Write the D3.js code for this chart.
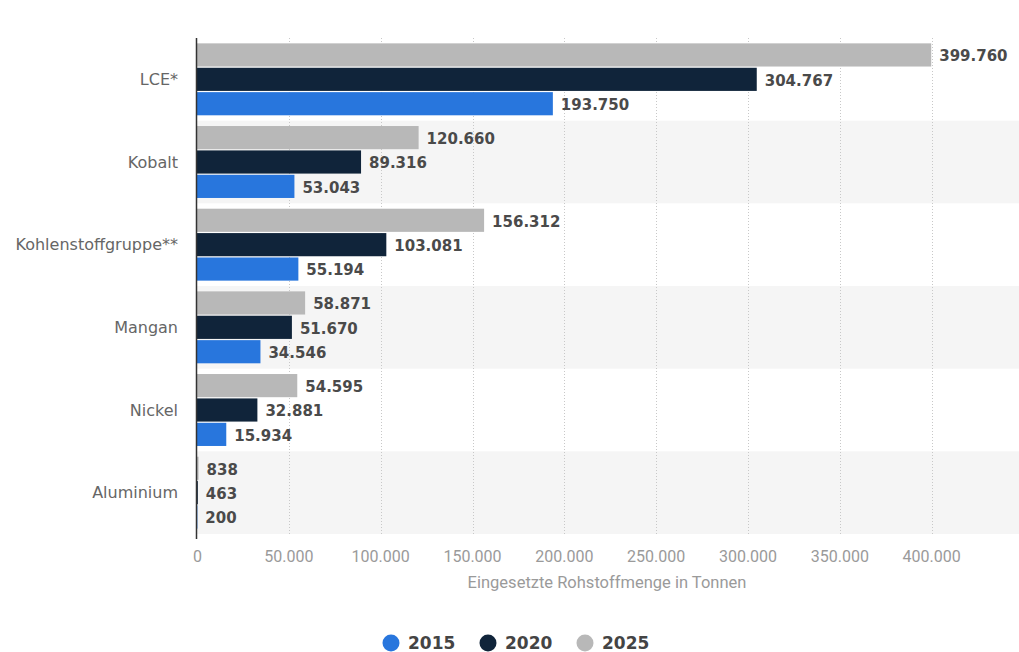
<!DOCTYPE html>
<html>
<head>
<meta charset="utf-8">
<script src="https://cdn.jsdelivr.net/npm/d3@7"></script>
<style>
  body { margin: 0; background: #fff; }
  svg { display: block; }
</style>
</head>
<body>
<div id="chart"></div>
<script>
// Categories and series values (Tonnen)
const categories = ['LCE*', 'Kobalt', 'Kohlenstoffgruppe**', 'Mangan', 'Nickel', 'Aluminium'];
const years = ['2025', '2020', '2015'];
const values2015 = [193750, 53043, 55194, 34546, 15934, 200];
const values2020 = [304767, 89316, 103081, 51670, 32881, 463];
const values2025 = [399760, 120660, 156312, 58871, 54595, 838];
const xTicks = [0, 50000, 100000, 150000, 200000, 250000, 300000, 350000, 400000];
const legendYears = ['2015', '2020', '2025'];

const colors = { '2015': '#2876dd', '2020': '#10243a', '2025': '#b8b8b8' };
const seriesValues = { '2015': values2015, '2020': values2020, '2025': values2025 };

const width = 1019;
const height = 652;
const margin = { top: 38, left: 197, bottom: 118 };

const de = d3.formatLocale({ decimal: ',', thousands: '.', grouping: [3], currency: ['', ' €'] });
const fmt = de.format(',d');

const svg = d3.select('#chart')
    .append('svg')
    .attr('width', width)
    .attr('height', height);

const x = d3.scaleLinear()
    .domain([0, 450000])
    .range([margin.left, margin.left + 826.5]);

const y = d3.scaleBand()
    .domain(categories)
    .range([margin.top, height - margin.bottom])
    .padding(0);

const inner = d3.scaleBand()
    .domain(years)
    .range([0, y.bandwidth()])
    .paddingInner(0.05)
    .paddingOuter(0.22);

// Alternating row backgrounds
svg.append('g')
    .selectAll('rect')
    .data(categories.filter((d, i) => i % 2 === 1))
    .enter()
    .append('rect')
    .attr('x', margin.left)
    .attr('y', d => y(d))
    .attr('width', width - margin.left)
    .attr('height', y.bandwidth())
    .style('fill', '#f5f5f5');

// Dotted grid lines
svg.append('g')
    .selectAll('line')
    .data(xTicks.slice(1))
    .enter()
    .append('line')
    .attr('x1', d => Math.round(x(d)) + 0.5)
    .attr('x2', d => Math.round(x(d)) + 0.5)
    .attr('y1', margin.top)
    .attr('y2', height - margin.bottom)
    .style('stroke', '#c8c8c8')
    .style('stroke-width', 1)
    .style('stroke-dasharray', '1,2');

// Bars
const rows = svg.append('g')
    .selectAll('g')
    .data(categories)
    .enter()
    .append('g')
    .attr('transform', d => `translate(0,${y(d)})`);

const barData = (cat, i) => years.map(yr => ({ year: yr, value: seriesValues[yr][i] }));

rows.selectAll('rect')
    .data(barData)
    .enter()
    .append('rect')
    .attr('x', x(0))
    .attr('y', d => inner(d.year))
    .attr('width', d => x(d.value) - x(0))
    .attr('height', inner.bandwidth())
    .style('fill', d => colors[d.year]);

rows.selectAll('text')
    .data(barData)
    .enter()
    .append('text')
    .attr('x', d => x(d.value) + 8)
    .attr('y', d => inner(d.year) + inner.bandwidth() / 2 + 1)
    .attr('dy', '0.36em')
    .text(d => fmt(d.value))
    .style('font-family', '"DejaVu Sans", sans-serif')
    .style('font-size', '15px')
    .style('font-weight', 'bold')
    .style('fill', '#4a4a4a');

// Category labels
svg.append('g')
    .selectAll('text')
    .data(categories)
    .enter()
    .append('text')
    .attr('x', 178)
    .attr('y', d => y(d) + y.bandwidth() / 2)
    .attr('dy', '0.36em')
    .attr('text-anchor', 'end')
    .text(d => d)
    .style('font-family', '"DejaVu Sans", sans-serif')
    .style('font-size', '16px')
    .style('fill', '#666');

// Y axis line
svg.append('line')
    .attr('x1', margin.left - 0.5)
    .attr('x2', margin.left - 0.5)
    .attr('y1', margin.top)
    .attr('y2', height - margin.bottom + 5)
    .style('stroke', '#333')
    .style('stroke-width', 1.5);

// X tick labels
svg.append('g')
    .selectAll('text')
    .data(xTicks)
    .enter()
    .append('text')
    .attr('x', d => d === 0 ? x(d) - 4 : x(d))
    .attr('y', 562)
    .attr('text-anchor', d => d === 0 ? 'start' : 'middle')
    .text(d => fmt(d))
    .style('font-family', 'Roboto, sans-serif')
    .style('font-size', '16px')
    .style('fill', '#9a9a9a');

// Axis title
svg.append('text')
    .attr('x', 607)
    .attr('y', 588)
    .attr('text-anchor', 'middle')
    .text('Eingesetzte Rohstoffmenge in Tonnen')
    .style('font-family', 'Roboto, sans-serif')
    .style('font-size', '16.5px')
    .style('fill', '#9a9a9a');

// Legend
const legendX = [391, 488, 585];
const legend = svg.append('g')
    .selectAll('g')
    .data(legendYears)
    .enter()
    .append('g')
    .attr('transform', (d, i) => `translate(${legendX[i]},643)`);

legend.append('circle')
    .attr('r', 8.5)
    .style('fill', d => colors[d]);

legend.append('text')
    .attr('x', 17)
    .attr('dy', '0.36em')
    .text(d => d)
    .style('font-family', '"DejaVu Sans", sans-serif')
    .style('font-size', '17px')
    .style('font-weight', 'bold')
    .style('fill', '#444');
</script>
</body>
</html>
